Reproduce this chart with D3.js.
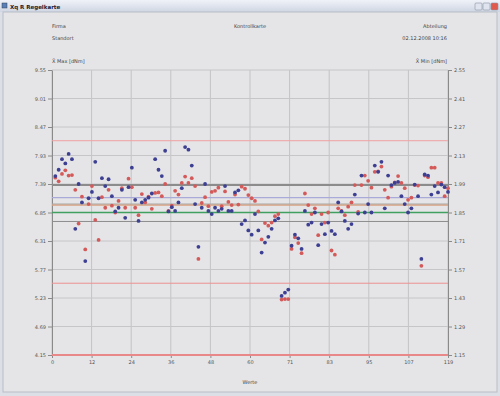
<!DOCTYPE html>
<html>
<head>
<meta charset="utf-8">
<script src="https://cdn.jsdelivr.net/npm/d3@7"></script>
<style>
  body { margin: 0; background: #e4e4e6; }
  svg { display: block; font-family: "DejaVu Sans", sans-serif; }
</style>
</head>
<body>
<svg id="chart" width="500" height="396"></svg>
<script>
// Werte (Messpunkte 1..119), linke Achse
const maxValues = [
  7.54, 7.66, 7.86, 7.78, 7.96, 7.86, 6.54, 7.39, 7.04, 5.93,
  7.12, 7.24, 7.81, 7.12, 7.50, 7.35, 7.48, 7.16, 6.87, 6.94,
  7.28, 6.75, 7.33, 7.70, 7.09, 6.69, 7.04, 7.09, 7.13, 7.21,
  7.86, 7.66, 7.54, 8.02, 6.87, 6.95, 6.88, 7.04, 7.31, 8.09,
  8.04, 7.74, 7.01, 6.20, 6.94, 7.39, 6.88, 6.82, 6.94, 6.88,
  6.92, 7.35, 6.88, 6.88, 7.23, 7.27, 6.63, 6.70, 6.51, 6.43,
  6.82, 6.51, 6.09, 6.28, 6.39, 6.54, 6.70, 6.74, 5.27, 5.33,
  5.39, 6.22, 6.43, 6.36, 6.16, 6.88, 6.62, 6.66, 6.85, 6.23,
  6.63, 6.44, 6.66, 6.50, 6.44, 7.04, 6.87, 6.69, 6.54, 6.63,
  7.19, 6.83, 7.55, 6.85, 7.01, 6.85, 7.74, 7.62, 7.81, 6.93,
  7.55, 7.37, 7.41, 7.43, 7.16, 7.01, 6.85, 6.93, 7.38, 7.16,
  5.97, 7.57, 7.55, 7.19, 7.35, 7.23, 7.38, 7.33, 7.24
];
const minValues = [
  7.51, 7.44, 7.58, 7.65, 7.55, 7.56, 7.28, 6.64, 7.15, 6.15,
  7.01, 7.35, 6.71, 6.33, 7.14, 6.94, 7.28, 6.98, 6.85, 7.07,
  7.31, 6.94, 7.49, 7.33, 6.94, 6.80, 7.20, 7.04, 7.15, 6.92,
  7.22, 7.23, 7.16, 7.39, 6.88, 6.98, 7.26, 7.19, 7.41, 7.53,
  7.41, 7.50, 7.35, 5.97, 7.03, 7.14, 6.97, 7.24, 7.26, 7.32,
  6.97, 7.25, 7.05, 6.99, 7.19, 7.00, 7.34, 7.30, 7.18, 7.12,
  7.07, 6.87, 6.34, 6.65, 6.60, 6.66, 6.78, 6.82, 5.20, 5.21,
  5.21, 6.16, 6.38, 6.27, 6.08, 7.21, 6.99, 6.82, 6.93, 6.42,
  6.82, 6.66, 6.85, 6.13, 6.05, 6.93, 6.88, 6.80, 6.96, 7.04,
  7.37, 6.86, 7.37, 7.55, 7.45, 7.32, 7.62, 7.63, 7.72, 7.28,
  7.13, 7.34, 7.42, 7.54, 7.41, 7.31, 7.09, 7.13, 7.37, 7.36,
  5.84, 7.55, 7.52, 7.70, 7.70, 7.41, 7.41, 7.16, 7.31
];

// Achsen
const xTickLabels = ["0", "12", "24", "36", "48", "60", "71", "83", "95", "107", "119"];
const leftTicks = [4.15, 4.69, 5.23, 5.77, 6.31, 6.85, 7.39, 7.93, 8.47, 9.01, 9.55];
const rightTicks = [1.15, 1.29, 1.43, 1.57, 1.71, 1.85, 1.99, 2.13, 2.27, 2.41, 2.55];

// Grenz- und Mittellinien
const limitValues = [8.21, 7.37, 7.13, 7.01, 6.99, 6.85, 6.68, 5.51, 4.15];

const svg = d3.select("#chart");
const W = 500, H = 396;
const plotL = 52, plotR = 448, plotT = 70, plotB = 355;

// Fensterrahmen
const defs = svg.append("defs");
const grad = defs.append("linearGradient").attr("id", "titleGrad")
  .attr("x1", 0).attr("y1", 0).attr("x2", 0).attr("y2", 1);
grad.append("stop").attr("offset", "0%").attr("stop-color", "#f0f2f8");
grad.append("stop").attr("offset", "100%").attr("stop-color", "#cfd6e3");

svg.append("rect").attr("width", W).attr("height", H).attr("fill", "#dcdfe6");
svg.append("rect").attr("width", W).attr("height", 12).attr("fill", "url(#titleGrad)");
svg.append("rect").attr("x", 2).attr("y", 3).attr("width", 5).attr("height", 5)
  .attr("fill", "#5a7fb8").attr("stroke", "#345").attr("stroke-width", 0.5);
svg.append("text").attr("x", 10).attr("y", 8.5)
  .attr("font-size", 5.5).attr("font-weight", "bold").attr("fill", "#223")
  .text("Xq R Regelkarte");

// Fensterknöpfe
[[475, "#dfe4ee"], [483, "#dfe4ee"], [491, "#e05a4e"]].forEach(([bx, c]) => {
  svg.append("rect").attr("x", bx).attr("y", 3).attr("width", 7).attr("height", 7)
    .attr("rx", 1).attr("fill", c).attr("stroke", "#8a93a6").attr("stroke-width", 0.6);
});

svg.append("rect").attr("x", 3).attr("y", 12).attr("width", 494).attr("height", 380)
  .attr("fill", "#e5e5e7").attr("stroke", "#b8bdc6").attr("stroke-width", 1);

// Kopfzeilen
const hdr = (x, y, t, anchor) => svg.append("text")
  .attr("x", x).attr("y", y).attr("font-size", 5).attr("fill", "#444")
  .attr("text-anchor", anchor).text(t);
hdr(52, 28, "Firma", "start");
hdr(250, 28, "Kontrollkarte", "middle");
hdr(447, 28, "Abteilung", "end");
hdr(52, 40, "Standort", "start");
hdr(447, 40, "02.12.2008 10:16", "end");
hdr(52, 63, "X\u0304  Max [dNm]", "start");
hdr(447, 63, "X\u0304  Min [dNm]", "end");

// Skalen
const x = d3.scaleLinear().domain([0, 119]).range([plotL, plotR]);
const y = d3.scaleLinear().domain([4.15, 9.55]).range([plotB, plotT]);
const yR = d3.scaleLinear().domain([1.15, 2.55]).range([plotB, plotT]);
const xTickPos = xTickLabels.map((d, i) => i * 119 / 10);

// Gitter
svg.append("g").selectAll("line").data(xTickPos).join("line")
  .attr("x1", d => x(d)).attr("x2", d => x(d))
  .attr("y1", plotT).attr("y2", plotB)
  .attr("stroke", "#c3c3c5").attr("stroke-width", 1);
svg.append("g").selectAll("line").data(leftTicks).join("line")
  .attr("x1", plotL).attr("x2", plotR)
  .attr("y1", d => y(d)).attr("y2", d => y(d))
  .attr("stroke", "#c6c6c8").attr("stroke-width", 1);

// Achsen
function styleAxis(g) {
  g.select(".domain").attr("stroke", "#8a8a8a");
  g.selectAll(".tick line").attr("stroke", "#8a8a8a");
  g.selectAll(".tick text").attr("fill", "#555").attr("font-size", 5)
    .attr("font-family", "DejaVu Sans, sans-serif");
}
svg.append("g").attr("transform", `translate(${plotL},0)`)
  .call(d3.axisLeft(y).tickValues(leftTicks).tickFormat(d3.format(".2f"))
    .tickSize(4).tickSizeOuter(0).tickPadding(2))
  .call(styleAxis);
svg.append("g").attr("transform", `translate(${plotR},0)`)
  .call(d3.axisRight(yR).tickValues(rightTicks).tickFormat(d3.format(".2f"))
    .tickSize(4).tickSizeOuter(0).tickPadding(2))
  .call(styleAxis);
svg.append("g").attr("transform", `translate(0,${plotB})`)
  .call(d3.axisBottom(x).tickValues(xTickPos).tickFormat((d, i) => xTickLabels[i])
    .tickSize(3).tickSizeOuter(0).tickPadding(2))
  .call(styleAxis);

svg.append("text").attr("x", 250).attr("y", 384).attr("text-anchor", "middle")
  .attr("font-size", 5).attr("fill", "#444").text("Werte");

// Grenzlinien
const limitStyle = [
  ["#f0a0a0", 1], ["#8c8c8c", 2], ["#aaaad8", 1.2], ["#a8a8a8", 1.2],
  ["#d8a080", 1.2], ["#3fa060", 1.5], ["#8c8c8c", 1], ["#ee9090", 1], ["#e88888", 2]
];
svg.append("g").selectAll("line").data(limitValues).join("line")
  .attr("x1", plotL).attr("x2", plotR)
  .attr("y1", d => y(d)).attr("y2", d => y(d))
  .attr("stroke", (d, i) => limitStyle[i][0])
  .attr("stroke-width", (d, i) => limitStyle[i][1]);

// Punkte
const drawPoints = (vals, color) => svg.append("g").selectAll("circle")
  .data(vals).join("circle")
  .attr("cx", (d, i) => x(i + 1)).attr("cy", d => y(d))
  .attr("r", 1.9).attr("fill", color);
drawPoints(minValues, "#d45a5a");
drawPoints(maxValues, "#3c3f92");
</script>
</body>
</html>
